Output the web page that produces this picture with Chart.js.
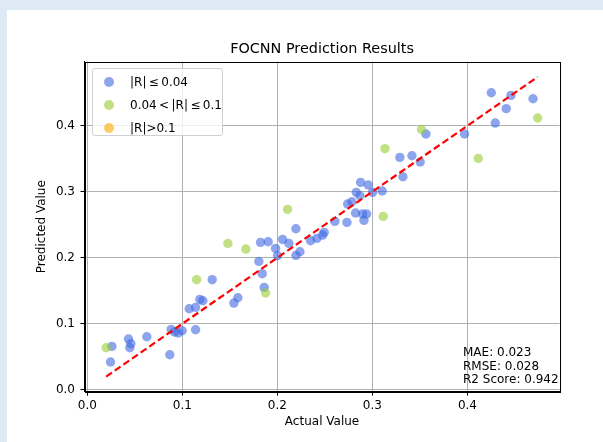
<!DOCTYPE html>
<html>
<head>
<meta charset="utf-8">
<script src="https://cdn.jsdelivr.net/npm/chart.js@4.4.1/dist/chart.umd.min.js"></script>
<style>
  html, body { margin: 0; padding: 0; }
  body { width: 603px; height: 442px; background: #dde9f5; position: relative; overflow: hidden; font-family: "DejaVu Sans", sans-serif; }
  #panel { position: absolute; left: 7px; top: 10px; right: 0; bottom: 0; background: #fff; }
  #chart { position: absolute; left: 0; top: 0; }
  #legend { position: absolute; left: 92px; top: 68px; width: 131px; height: 68px; box-sizing: border-box;
            border: 1px solid #d0d0d0; border-radius: 3px; background: rgba(255,255,255,0.8); }
  .row { position: absolute; left: 0; height: 14px; font-size: 12px; line-height: 14px; color: #000; white-space: nowrap; }
  .dot { position: absolute; left: 11px; top: 2px; width: 10px; height: 10px; border-radius: 50%; }
  .lbl { position: absolute; left: 37px; top: 0; }
  #stats { position: absolute; left: 463px; top: 346px; font-size: 12px; line-height: 13.7px; color: #000; white-space: pre; }
</style>
</head>
<body>
<div id="panel"></div>
<canvas id="chart" width="603" height="442"></canvas>
<div id="legend"></div>
<div id="stats"></div>
<script>
// category labels and colours
const categories = ['|R|\u2009\u2264\u20090.04', '0.04\u2009<\u2009|R|\u2009\u2264\u20090.1', '|R|>0.1'];
const colors = ['rgba(65,105,225,0.6)', 'rgba(154,205,50,0.6)', 'rgba(255,165,0,0.6)'];

// |R| <= 0.04
const actualLow = [0.0258, 0.0244, 0.0433, 0.0458, 0.0447, 0.0626, 0.0868, 0.0882, 0.0918, 0.0956,
  0.0998, 0.1139, 0.1072, 0.1139, 0.1184, 0.1216, 0.1314, 0.1542, 0.1584, 0.1823,
  0.1903, 0.1981, 0.1805, 0.1840, 0.1861, 0.2002, 0.2055, 0.2121, 0.2195, 0.2195,
  0.2237, 0.2349, 0.2416, 0.2476, 0.2493, 0.2605, 0.2732, 0.2739, 0.2784, 0.2830,
  0.2876, 0.2868, 0.2823, 0.2897, 0.2939, 0.2911, 0.2956, 0.3002, 0.3103, 0.3289,
  0.3416, 0.3503, 0.3321, 0.3563, 0.3970, 0.4251, 0.4293, 0.4408, 0.4458, 0.4690];
const predLow = [0.0656, 0.0420, 0.0768, 0.0697, 0.0636, 0.0803, 0.0530, 0.0914, 0.0874, 0.0859,
  0.0894, 0.0909, 0.1227, 0.1247, 0.1368, 0.1348, 0.1667, 0.1313, 0.1394, 0.2232,
  0.2242, 0.2141, 0.1944, 0.1758, 0.1550, 0.2030, 0.2277, 0.2217, 0.2439, 0.2035,
  0.2091, 0.2258, 0.2293, 0.2343, 0.2384, 0.2550, 0.2535, 0.2813, 0.2848, 0.2990,
  0.3141, 0.2939, 0.2677, 0.2662, 0.2662, 0.2566, 0.3101, 0.2990, 0.3010, 0.3520,
  0.3545, 0.3450, 0.3227, 0.3874, 0.3874, 0.4500, 0.4040, 0.4258, 0.4459, 0.4409];

// 0.04 < |R| <= 0.1
const actualMid = [0.0198, 0.1150, 0.1479, 0.1668, 0.1876, 0.2107, 0.3114, 0.3132, 0.3516, 0.4114, 0.4739];
const predMid = [0.0636, 0.1667, 0.2217, 0.2131, 0.1465, 0.2732, 0.2626, 0.3652, 0.3944, 0.3505, 0.4116];

// |R| > 0.1 (none)
const actualHigh = [];
const predHigh = [];

const xTicks = [0.0, 0.1, 0.2, 0.3, 0.4];
const yTicks = [0.0, 0.1, 0.2, 0.3, 0.4];
const axisMin = -0.003;
const axisMax = 0.497;

const statsLines = ['MAE: 0.023', 'RMSE: 0.028', 'R2 Score: 0.942'];

const allActual = actualLow.concat(actualMid, actualHigh);
const lineMin = Math.min(...allActual);
const lineMax = Math.max(...allActual);

function pts(xs, ys) { return xs.map((x, i) => ({ x: x, y: ys[i] })); }

const font = { family: 'DejaVu Sans', size: 12 };

const frame = {
  id: 'frame',
  afterDraw(chart) {
    const a = chart.chartArea, ctx = chart.ctx;
    ctx.save();
    ctx.strokeStyle = '#000';
    ctx.lineWidth = 1;
    ctx.strokeRect(Math.round(a.left) + 0.5, Math.round(a.top) + 0.5, Math.round(a.right - a.left), Math.round(a.bottom - a.top));
    ctx.restore();
  }
};

new Chart(document.getElementById('chart').getContext('2d'), {
  type: 'scatter',
  data: {
    datasets: [
      { type: 'line', data: [{ x: lineMin, y: lineMin }, { x: lineMax, y: lineMax }],
        borderColor: '#ff0000', borderWidth: 2.2, borderDash: [7, 3.5], pointRadius: 0, fill: false, order: 0 },
      { label: categories[0], data: pts(actualLow, predLow), backgroundColor: colors[0], borderWidth: 0, pointRadius: 4.7, order: 2 },
      { label: categories[1], data: pts(actualMid, predMid), backgroundColor: colors[1], borderWidth: 0, pointRadius: 4.7, order: 1 },
      { label: categories[2], data: pts(actualHigh, predHigh), backgroundColor: colors[2], borderWidth: 0, pointRadius: 4.7, order: 1 }
    ]
  },
  options: {
    responsive: false,
    animation: false,
    layout: { padding: { left: 31, top: 40.4, right: 43.4, bottom: 5.3 } },
    plugins: {
      legend: { display: false },
      tooltip: { enabled: false },
      title: { display: true, text: 'FOCNN Prediction Results', fullSize: false, color: '#000',
               font: { family: 'DejaVu Sans', size: 14.4, weight: 'normal' }, padding: { top: 0, bottom: 4 } }
    },
    scales: {
      x: {
        type: 'linear', min: axisMin, max: axisMax,
        afterBuildTicks: s => { s.ticks = xTicks.map(v => ({ value: v })); },
        afterFit: s => { s.height = 45; },
        ticks: { callback: v => v.toFixed(1), font: font, color: '#000', padding: 3, maxRotation: 0, autoSkip: false },
        grid: { color: '#b0b0b0', lineWidth: 1, tickColor: '#000', tickLength: 4, tickWidth: 1 },
        border: { color: '#000', width: 1 },
        title: { display: true, text: 'Actual Value', font: font, color: '#000', padding: { top: 0, bottom: 7.5 } }
      },
      y: {
        type: 'linear', min: axisMin, max: axisMax,
        afterBuildTicks: s => { s.ticks = yTicks.map(v => ({ value: v })); },
        afterFit: s => { s.width = 53.5; },
        ticks: { callback: v => v.toFixed(1), font: font, color: '#000', padding: 5.5, autoSkip: false },
        grid: { color: '#b0b0b0', lineWidth: 1, tickColor: '#000', tickLength: 4, tickWidth: 1 },
        border: { color: '#000', width: 1 },
        title: { display: true, text: 'Predicted Value', font: font, color: '#000', padding: { top: 3.8, bottom: 0 } }
      }
    }
  },
  plugins: [frame]
});

// legend box (inside the axes, like matplotlib)
const legend = document.getElementById('legend');
categories.forEach((c, i) => {
  const row = document.createElement('div');
  row.className = 'row';
  row.style.top = (5.7 + i * 22.9) + 'px';
  row.innerHTML = '<span class="dot" style="background:' + colors[i] + '"></span><span class="lbl"></span>';
  row.querySelector('.lbl').textContent = c;
  legend.appendChild(row);
});

document.getElementById('stats').textContent = statsLines.join('\n');
</script>
</body>
</html>
